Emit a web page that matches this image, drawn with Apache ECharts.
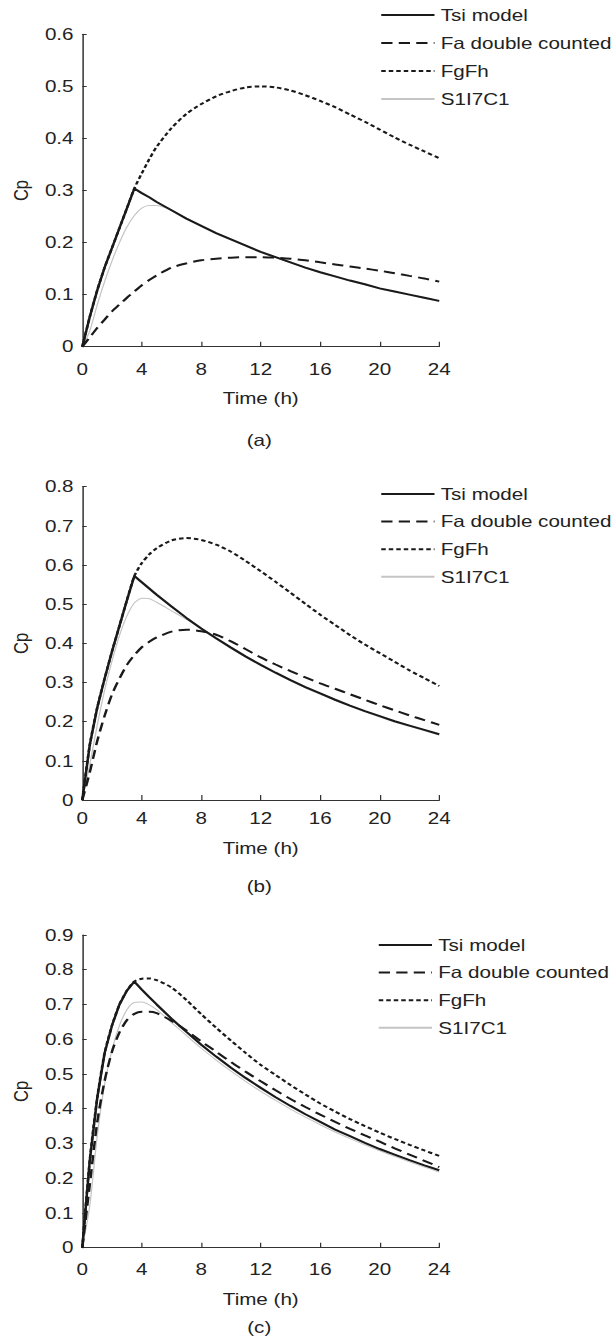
<!DOCTYPE html>
<html>
<head>
<meta charset="utf-8">
<script src="https://cdn.jsdelivr.net/npm/echarts@6/dist/echarts.min.js"></script>
<style>
html,body{margin:0;padding:0;background:#fff;overflow:hidden;}
#c{width:489.6px;height:1341px;transform:scaleX(1.25);transform-origin:0 0;}
</style>
</head>
<body>
<div id="c"></div>
<script>
// ---- data ----
const hours = [0,0.5,1,1.5,2,2.5,3,3.5,4,4.5,5,6,7,8,9,10,11,12,13,14,15,16,17,18,19,20,21,22,23,24];
const seriesNames = ['Tsi model','Fa double counted','FgFh','S1I7C1'];
const xTicks = [0,4,8,12,16,20,24];
const yMax = [0.6,0.8,0.9];
const panelLabels = ['(a)','(b)','(c)'];

// panel (a)
const tsiA = [0,0.057,0.108,0.152,0.190,0.228,0.266,0.304,0.295,0.287,0.278,0.262,0.246,0.232,0.218,0.206,0.194,0.182,0.172,0.162,0.152,0.143,0.135,0.127,0.120,0.112,0.106,0.100,0.094,0.088];
const faA  = [0,0.018,0.036,0.052,0.068,0.081,0.094,0.106,0.118,0.128,0.137,0.152,0.160,0.166,0.169,0.171,0.172,0.172,0.171,0.169,0.166,0.162,0.158,0.154,0.150,0.146,0.141,0.136,0.131,0.125];
const fgA  = [0,0.057,0.108,0.152,0.190,0.228,0.266,0.304,0.333,0.360,0.384,0.420,0.447,0.466,0.481,0.491,0.498,0.500,0.498,0.492,0.483,0.472,0.460,0.446,0.432,0.417,0.402,0.388,0.375,0.362];
const sA   = [0,0.030,0.080,0.125,0.165,0.200,0.230,0.252,0.266,0.271,0.271,0.262,0.247,0.231,0.217,0.205,0.193,0.181,0.171,0.161,0.151,0.142,0.134,0.126,0.119,0.111,0.105,0.099,0.093,0.087];
// panel (b)
const tsiB = [0,0.140,0.235,0.310,0.380,0.445,0.510,0.572,0.556,0.540,0.524,0.494,0.465,0.438,0.413,0.389,0.366,0.345,0.325,0.306,0.288,0.272,0.256,0.241,0.227,0.214,0.201,0.190,0.179,0.168];
const faB  = [0,0.070,0.150,0.215,0.270,0.310,0.345,0.370,0.390,0.404,0.415,0.430,0.435,0.431,0.422,0.405,0.385,0.364,0.346,0.329,0.313,0.298,0.284,0.270,0.256,0.242,0.229,0.216,0.204,0.192];
const fgB  = [0,0.140,0.235,0.310,0.380,0.445,0.510,0.572,0.605,0.627,0.643,0.663,0.669,0.664,0.652,0.634,0.610,0.584,0.557,0.529,0.501,0.473,0.447,0.421,0.397,0.375,0.353,0.331,0.311,0.291];
const sB   = [0,0.090,0.190,0.280,0.355,0.420,0.470,0.503,0.515,0.514,0.505,0.483,0.461,0.436,0.411,0.387,0.364,0.343,0.323,0.304,0.286,0.270,0.254,0.239,0.225,0.212,0.199,0.188,0.177,0.166];
// panel (c)
const tsiC = [0,0.250,0.430,0.560,0.640,0.700,0.740,0.766,0.743,0.721,0.700,0.659,0.621,0.584,0.550,0.518,0.488,0.460,0.433,0.408,0.384,0.362,0.340,0.321,0.302,0.284,0.268,0.252,0.237,0.223];
const faC  = [0,0.180,0.360,0.480,0.565,0.620,0.655,0.673,0.679,0.679,0.675,0.653,0.625,0.594,0.564,0.534,0.506,0.479,0.453,0.428,0.405,0.383,0.362,0.342,0.323,0.305,0.286,0.268,0.250,0.232];
const fgC  = [0,0.250,0.430,0.560,0.640,0.700,0.740,0.766,0.774,0.775,0.770,0.749,0.713,0.672,0.633,0.596,0.560,0.526,0.497,0.468,0.441,0.415,0.392,0.370,0.350,0.331,0.313,0.296,0.280,0.264];
const sC   = [0,0.120,0.320,0.470,0.570,0.640,0.685,0.706,0.707,0.699,0.685,0.648,0.611,0.574,0.540,0.508,0.478,0.450,0.424,0.399,0.376,0.354,0.333,0.314,0.296,0.279,0.263,0.247,0.232,0.218];

const panelData = [[tsiA,faA,fgA,sA],[tsiB,faB,fgB,sB],[tsiC,faC,fgC,sC]];

// ---- layout / style ----
const FONT = '"Liberation Sans", Arial, Helvetica, sans-serif';
const TXT = '#222';
const FS = 16.5;
const gridTops = [34.3, 486.7, 935];
const gridH = [312.4, 313.3, 312.7];
const xLabelMargin = [14, 10, 13];
const xNameGap = [43, 40, 43];
const legendTops = [6, 485, 936];
const legendGaps = [10, 9.6, 9.6];
const legendLefts = [304, 304, 302];
const labelY = [440, 886, 1327];

const lineStyles = [
  {color:'#1a1a1a', width:2, type:'solid'},
  {color:'#1a1a1a', width:2, type:[9,5]},
  {color:'#1a1a1a', width:2, type:[3.6,2.4]},
  {color:'#c4c4c4', width:1, type:'solid'}
];
const zOrder = [6,4,5,3];

const grids=[], xAxes=[], yAxes=[], series=[], legends=[], graphics=[];
for (let p=0;p<3;p++){
  grids.push({left:63.4, top:gridTops[p], width:288, height:gridH[p]});
  xAxes.push({
    type:'value', gridIndex:p, min:0, max:24, interval:4,
    name:'Time (h)', nameLocation:'middle', nameGap:xNameGap[p],
    nameTextStyle:{color:TXT, fontSize:FS, fontFamily:FONT},
    axisLine:{lineStyle:{color:'#333', width:1.2}},
    axisTick:{inside:true, length:5, lineStyle:{color:'#333', width:1}},
    axisLabel:{color:TXT, fontSize:FS, fontFamily:FONT, margin:xLabelMargin[p],
      customValues: xTicks},
    splitLine:{show:false}
  });
  yAxes.push({
    type:'value', gridIndex:p, min:0, max:yMax[p], interval:0.1,
    name:'Cp', nameLocation:'middle', nameGap:40, nameRotate:90,
    nameTextStyle:{color:TXT, fontSize:FS, fontFamily:FONT},
    axisLine:{show:true, lineStyle:{color:'#333', width:1.2}},
    axisTick:{show:true, inside:true, length:3.5, lineStyle:{color:'#333', width:1}},
    axisLabel:{color:TXT, fontSize:FS, fontFamily:FONT, margin:7,
      formatter:function(v){return v===0?'0':v.toFixed(1);}},
    splitLine:{show:false}
  });
  for (let s=0;s<4;s++){
    const vals = panelData[p][s];
    series.push({
      type:'line', name:seriesNames[s], xAxisIndex:p, yAxisIndex:p,
      data: hours.map((h,i)=>[h, vals[i]]),
      symbol:'none', showSymbol:false, smooth: s===0 ? false : 0.25,
      lineStyle:lineStyles[s], itemStyle:{color:lineStyles[s].color},
      z:zOrder[s], silent:true, animation:false
    });
  }
  legends.push({
    data:seriesNames, orient:'vertical', left:legendLefts[p], top:legendTops[p],
    itemWidth:42.6, itemHeight:14, itemGap:legendGaps[p], padding:0,
    selectedMode:false,
    itemStyle:{opacity:0, color:'transparent', borderWidth:0},
    textStyle:{color:TXT, fontSize:FS, fontFamily:FONT, lineHeight:18}
  });
  graphics.push({
    type:'text', x:207.4, y:labelY[p],
    style:{text:panelLabels[p], fill:TXT, font:FS+'px '+FONT, textAlign:'center', textVerticalAlign:'middle'}
  });
}

const chart = echarts.init(document.getElementById('c'), null, {renderer:'svg'});
chart.setOption({
  backgroundColor:'#fff',
  animation:false,
  grid:grids, xAxis:xAxes, yAxis:yAxes, series:series, legend:legends,
  graphic:graphics
});
</script>
</body>
</html>
